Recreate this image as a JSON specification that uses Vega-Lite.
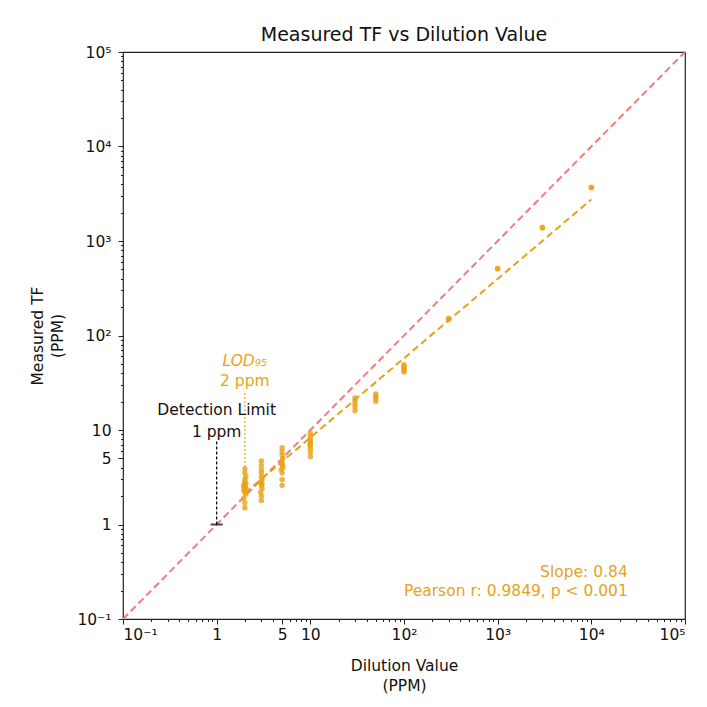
{
  "$schema": "https://vega.github.io/schema/vega-lite/v6.json",
  "autosize": "none",
  "width": 562,
  "height": 567,
  "padding": {"left": 123, "top": 52, "right": 22, "bottom": 88},
  "background": "white",
  "config": {
    "font": "DejaVu Sans",
    "view": {"stroke": "#222", "strokeWidth": 1.2},
    "axis": {"grid": false, "domain": false, "labelFont": "DejaVu Sans", "titleFont": "DejaVu Sans", "labelFontSize": 15.5, "titleFontSize": 15.5, "labelColor": "#111", "titleColor": "#111", "tickColor": "#222", "titleFontWeight": "normal", "titleLineHeight": 20}
  },
  "title": {"text": "Measured TF vs Dilution Value", "fontSize": 19, "fontWeight": "normal", "font": "DejaVu Sans", "color": "#111", "offset": 0},
  "datasets": {
    "points": [
      {"dilution": 2, "measured": 1.5}, {"dilution": 2, "measured": 1.7}, {"dilution": 1.95, "measured": 1.9}, {"dilution": 2.05, "measured": 2.1},
      {"dilution": 2, "measured": 2.2}, {"dilution": 1.95, "measured": 2.3}, {"dilution": 2.05, "measured": 2.4}, {"dilution": 2, "measured": 2.5},
      {"dilution": 1.95, "measured": 2.6}, {"dilution": 2.05, "measured": 2.7}, {"dilution": 2, "measured": 2.8}, {"dilution": 2, "measured": 3.0},
      {"dilution": 2.05, "measured": 3.2}, {"dilution": 2, "measured": 3.5}, {"dilution": 2, "measured": 3.9}, {"dilution": 1.95, "measured": 2.5},
      {"dilution": 3, "measured": 1.8}, {"dilution": 3, "measured": 2.0}, {"dilution": 2.95, "measured": 2.2}, {"dilution": 3.05, "measured": 2.4},
      {"dilution": 3, "measured": 2.6}, {"dilution": 2.95, "measured": 2.8}, {"dilution": 3.05, "measured": 3.0}, {"dilution": 3, "measured": 3.2},
      {"dilution": 3, "measured": 3.5}, {"dilution": 3, "measured": 3.8}, {"dilution": 3, "measured": 4.2}, {"dilution": 3, "measured": 4.7},
      {"dilution": 3.05, "measured": 2.7},
      {"dilution": 5, "measured": 2.6}, {"dilution": 5, "measured": 3.0}, {"dilution": 5, "measured": 3.5}, {"dilution": 4.9, "measured": 3.8},
      {"dilution": 5.1, "measured": 4.0}, {"dilution": 5, "measured": 4.3}, {"dilution": 4.9, "measured": 4.6}, {"dilution": 5.1, "measured": 5.0},
      {"dilution": 5, "measured": 5.4}, {"dilution": 5, "measured": 5.9}, {"dilution": 5, "measured": 6.5}, {"dilution": 5, "measured": 4.4},
      {"dilution": 10, "measured": 5.2}, {"dilution": 10, "measured": 5.8}, {"dilution": 10, "measured": 6.3}, {"dilution": 10, "measured": 6.8},
      {"dilution": 10, "measured": 7.2}, {"dilution": 10, "measured": 7.6}, {"dilution": 10, "measured": 8.0}, {"dilution": 10, "measured": 8.6},
      {"dilution": 10, "measured": 9.3}, {"dilution": 10, "measured": 7.0},
      {"dilution": 30, "measured": 16}, {"dilution": 30, "measured": 17.5}, {"dilution": 30, "measured": 19}, {"dilution": 30, "measured": 20.5}, {"dilution": 30, "measured": 22},
      {"dilution": 50, "measured": 20}, {"dilution": 50, "measured": 21.5}, {"dilution": 50, "measured": 22.5}, {"dilution": 50, "measured": 24},
      {"dilution": 100, "measured": 41}, {"dilution": 100, "measured": 43}, {"dilution": 100, "measured": 45}, {"dilution": 100, "measured": 47}, {"dilution": 100, "measured": 49},
      {"dilution": 300, "measured": 148}, {"dilution": 300, "measured": 152},
      {"dilution": 1000, "measured": 505}, {"dilution": 1000, "measured": 515},
      {"dilution": 3000, "measured": 1370}, {"dilution": 3000, "measured": 1400},
      {"dilution": 10000, "measured": 3650}, {"dilution": 10000, "measured": 3700}
    ],
    "identity": [{"dilution": 0.1, "measured": 0.1}, {"dilution": 100000, "measured": 100000}],
    "fit": [{"dilution": 2, "measured": 2.15}, {"dilution": 10000, "measured": 2750}],
    "detection": [{"dilution": 1, "measured": 1}, {"dilution": 1, "measured": 7.7}],
    "lod": [{"dilution": 2, "measured": 2.5}, {"dilution": 2, "measured": 26}],
    "detmark": [{"dilution": 1, "measured": 1}],
    "labels_black": [
      {"dilution": 1, "measured": 16.1, "label": "Detection Limit"},
      {"dilution": 1, "measured": 9.6, "label": "1 ppm"}
    ],
    "labels_lod_italic": [
      {"dilution": 2, "measured": 54.3, "label": "LOD₉₅"}
    ],
    "labels_lod": [
      {"dilution": 2, "measured": 33.4, "label": "2 ppm"}
    ],
    "stats": [
      {"dilution": 24500, "measured": 0.318, "label": "Slope: 0.84"},
      {"dilution": 24500, "measured": 0.2, "label": "Pearson r: 0.9849, p < 0.001"}
    ]
  },
  "resolve": {"axis": {"x": "independent", "y": "independent"}},
  "layer": [
    {
      "data": {"name": "identity"},
      "mark": {"type": "line", "color": "#F27B7B", "strokeWidth": 2, "strokeDash": [7, 4]},
      "encoding": {
        "x": {"field": "dilution", "type": "quantitative", "scale": {"type": "log", "domain": [0.1, 100000], "nice": false},
          "axis": {"orient": "bottom", "values": [0.2,0.3,0.4,0.5,0.6,0.7,0.8,0.9,2,3,4,6,7,8,9,20,30,40,50,60,70,80,90,200,300,400,500,600,700,800,900,2000,3000,4000,5000,6000,7000,8000,9000,20000,30000,40000,50000,60000,70000,80000,90000], "labels": false, "tickSize": 2.5, "title": null}},
        "y": {"field": "measured", "type": "quantitative", "scale": {"type": "log", "domain": [0.1, 100000], "nice": false},
          "axis": {"orient": "left", "values": [0.2,0.3,0.4,0.5,0.6,0.7,0.8,0.9,2,3,4,6,7,8,9,20,30,40,50,60,70,80,90,200,300,400,500,600,700,800,900,2000,3000,4000,5000,6000,7000,8000,9000,20000,30000,40000,50000,60000,70000,80000,90000], "labels": false, "tickSize": 2.5, "title": null}}
      }
    },
    {
      "data": {"name": "fit"},
      "mark": {"type": "line", "color": "#E3A21A", "strokeWidth": 2, "strokeDash": [7, 4]},
      "encoding": {
        "x": {"field": "dilution", "type": "quantitative", "axis": null},
        "y": {"field": "measured", "type": "quantitative", "axis": null}
      }
    },
    {
      "data": {"name": "points"},
      "mark": {"type": "circle", "color": "#E8A317", "opacity": 0.8, "size": 30},
      "encoding": {
        "x": {"field": "dilution", "type": "quantitative",
          "axis": {"orient": "bottom", "values": [0.1, 1, 5, 10, 100, 1000, 10000, 100000], "tickSize": 5, "labelPadding": 3, "format": "~g",
            "labelExpr": "datum.value == 0.1 ? '10⁻¹' : datum.value == 100 ? '10²' : datum.value == 1000 ? '10³' : datum.value == 10000 ? '10⁴' : datum.value == 100000 ? '10⁵' : datum.label",
            "title": ["Dilution Value", "(PPM)"], "titlePadding": 16}},
        "y": {"field": "measured", "type": "quantitative",
          "axis": {"orient": "left", "values": [0.1, 1, 5, 10, 100, 1000, 10000, 100000], "tickSize": 5, "labelPadding": 7, "format": "~g",
            "labelExpr": "datum.value == 0.1 ? '10⁻¹' : datum.value == 100 ? '10²' : datum.value == 1000 ? '10³' : datum.value == 10000 ? '10⁴' : datum.value == 100000 ? '10⁵' : datum.label",
            "title": ["Measured TF", "(PPM)"], "titlePadding": 11}}
      }
    },
    {
      "data": {"name": "detection"},
      "mark": {"type": "line", "color": "#000000", "strokeWidth": 1.2, "strokeDash": [3, 2]},
      "encoding": {
        "x": {"field": "dilution", "type": "quantitative", "axis": null},
        "y": {"field": "measured", "type": "quantitative", "axis": null}
      }
    },
    {
      "data": {"name": "lod"},
      "mark": {"type": "line", "color": "#E8A317", "strokeWidth": 1.2, "strokeDash": [2, 2]},
      "encoding": {
        "x": {"field": "dilution", "type": "quantitative", "axis": null},
        "y": {"field": "measured", "type": "quantitative", "axis": null}
      }
    },
    {
      "data": {"name": "detmark"},
      "mark": {"type": "point", "shape": "stroke", "size": 150, "color": "#000000", "strokeWidth": 2, "filled": false},
      "encoding": {
        "x": {"field": "dilution", "type": "quantitative", "axis": null},
        "y": {"field": "measured", "type": "quantitative", "axis": null}
      }
    },
    {
      "data": {"name": "labels_black"},
      "mark": {"type": "text", "fontSize": 15.5, "color": "#111", "align": "center", "baseline": "middle"},
      "encoding": {
        "x": {"field": "dilution", "type": "quantitative", "axis": null},
        "y": {"field": "measured", "type": "quantitative", "axis": null},
        "text": {"field": "label"}
      }
    },
    {
      "data": {"name": "labels_lod_italic"},
      "mark": {"type": "text", "fontSize": 15.5, "fontStyle": "italic", "color": "#E8A317", "align": "center", "baseline": "middle"},
      "encoding": {
        "x": {"field": "dilution", "type": "quantitative", "axis": null},
        "y": {"field": "measured", "type": "quantitative", "axis": null},
        "text": {"field": "label"}
      }
    },
    {
      "data": {"name": "labels_lod"},
      "mark": {"type": "text", "fontSize": 15.5, "color": "#E8A317", "align": "center", "baseline": "middle"},
      "encoding": {
        "x": {"field": "dilution", "type": "quantitative", "axis": null},
        "y": {"field": "measured", "type": "quantitative", "axis": null},
        "text": {"field": "label"}
      }
    },
    {
      "data": {"name": "stats"},
      "mark": {"type": "text", "fontSize": 15.5, "color": "#E8A317", "align": "right", "baseline": "middle"},
      "encoding": {
        "x": {"field": "dilution", "type": "quantitative", "axis": null},
        "y": {"field": "measured", "type": "quantitative", "axis": null},
        "text": {"field": "label"}
      }
    }
  ]
}
